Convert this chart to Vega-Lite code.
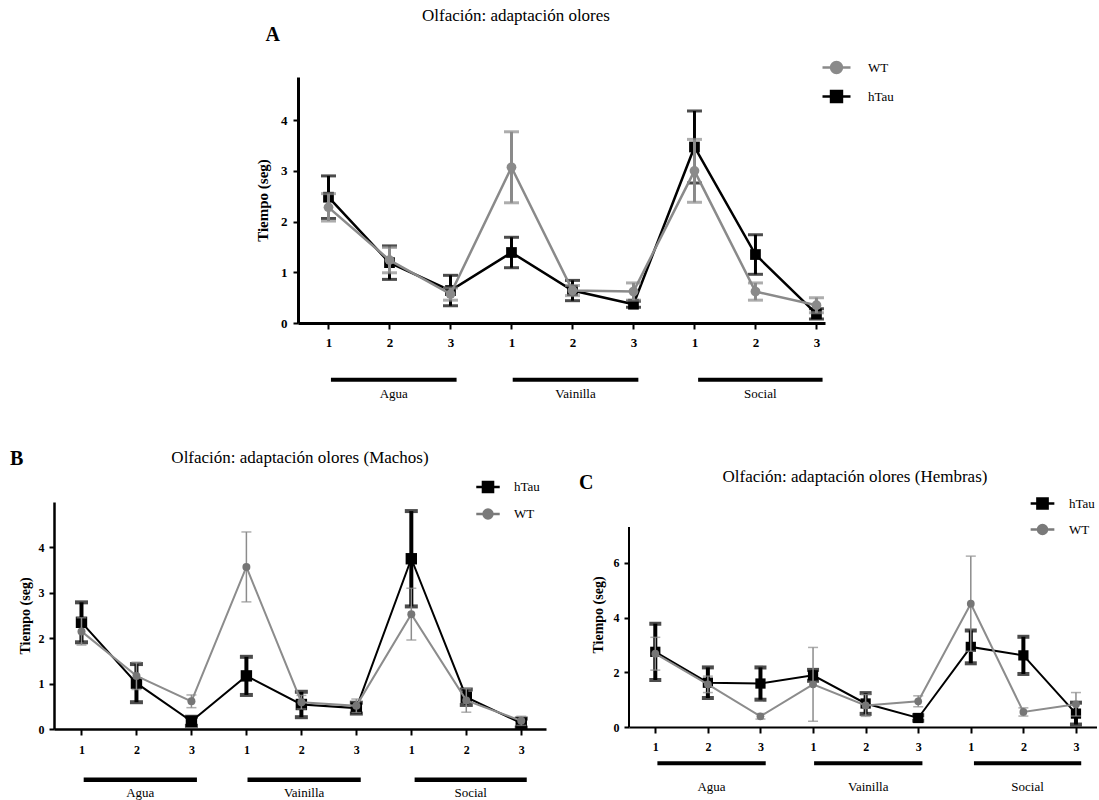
{
  "$schema": "https://vega.github.io/schema/vega-lite/v6.json",
  "padding": {"left": 10, "top": 7, "right": 0, "bottom": 0},
  "config": {
    "font": "Liberation Serif",
    "view": {"stroke": null},
    "axis": {"grid": false, "domainColor": "#000", "tickColor": "#000", "labelColor": "#000", "titleColor": "#000", "labelFont": "Liberation Serif", "titleFont": "Liberation Serif", "labelFontWeight": "bold", "titleFontWeight": "bold", "labelFontSize": 13, "titleFontSize": 14},
    "title": {"font": "Liberation Serif", "fontWeight": "normal", "fontSize": 17, "color": "#000"},
    "legend": {"labelFont": "Liberation Serif", "labelFontSize": 13, "labelColor": "#000", "padding": 0}
  },
  "datasets": {
    "A": [
      {"pos": 1, "series": "hTau", "mean": 2.48, "err": 0.42},
      {"pos": 2, "series": "hTau", "mean": 1.19, "err": 0.33},
      {"pos": 3, "series": "hTau", "mean": 0.64, "err": 0.3},
      {"pos": 4, "series": "hTau", "mean": 1.39, "err": 0.3},
      {"pos": 5, "series": "hTau", "mean": 0.64, "err": 0.2},
      {"pos": 6, "series": "hTau", "mean": 0.37, "err": 0.06},
      {"pos": 7, "series": "hTau", "mean": 3.47, "err": 0.71},
      {"pos": 8, "series": "hTau", "mean": 1.35, "err": 0.39},
      {"pos": 9, "series": "hTau", "mean": 0.18, "err": 0.1},
      {"pos": 1, "series": "WT", "mean": 2.28, "err": 0.27},
      {"pos": 2, "series": "WT", "mean": 1.24, "err": 0.25},
      {"pos": 3, "series": "WT", "mean": 0.57, "err": 0.12},
      {"pos": 4, "series": "WT", "mean": 3.07, "err": 0.7},
      {"pos": 5, "series": "WT", "mean": 0.64, "err": 0.1},
      {"pos": 6, "series": "WT", "mean": 0.62, "err": 0.17},
      {"pos": 7, "series": "WT", "mean": 3.0, "err": 0.62},
      {"pos": 8, "series": "WT", "mean": 0.62, "err": 0.17},
      {"pos": 9, "series": "WT", "mean": 0.35, "err": 0.15}
    ],
    "B": [
      {"pos": 1, "series": "hTau", "mean": 2.35, "err": 0.44},
      {"pos": 2, "series": "hTau", "mean": 1.01, "err": 0.42},
      {"pos": 3, "series": "hTau", "mean": 0.17, "err": 0.1},
      {"pos": 4, "series": "hTau", "mean": 1.17, "err": 0.42},
      {"pos": 5, "series": "hTau", "mean": 0.54, "err": 0.28},
      {"pos": 6, "series": "hTau", "mean": 0.46, "err": 0.12},
      {"pos": 7, "series": "hTau", "mean": 3.75, "err": 1.05},
      {"pos": 8, "series": "hTau", "mean": 0.7, "err": 0.17},
      {"pos": 9, "series": "hTau", "mean": 0.13, "err": 0.1},
      {"pos": 1, "series": "WT", "mean": 2.15, "err": 0.3},
      {"pos": 2, "series": "WT", "mean": 1.17, "err": 0.3},
      {"pos": 3, "series": "WT", "mean": 0.61, "err": 0.14},
      {"pos": 4, "series": "WT", "mean": 3.57, "err": 0.77},
      {"pos": 5, "series": "WT", "mean": 0.59, "err": 0.15},
      {"pos": 6, "series": "WT", "mean": 0.51, "err": 0.15},
      {"pos": 7, "series": "WT", "mean": 2.53, "err": 0.57},
      {"pos": 8, "series": "WT", "mean": 0.63, "err": 0.26},
      {"pos": 9, "series": "WT", "mean": 0.18, "err": 0.1}
    ],
    "C": [
      {"pos": 1, "series": "hTau", "mean": 2.75, "err": 1.03},
      {"pos": 2, "series": "hTau", "mean": 1.62, "err": 0.56},
      {"pos": 3, "series": "hTau", "mean": 1.59, "err": 0.59},
      {"pos": 4, "series": "hTau", "mean": 1.89, "err": 0.2},
      {"pos": 5, "series": "hTau", "mean": 0.86, "err": 0.38},
      {"pos": 6, "series": "hTau", "mean": 0.33, "err": 0.1},
      {"pos": 7, "series": "hTau", "mean": 2.93, "err": 0.6},
      {"pos": 8, "series": "hTau", "mean": 2.62, "err": 0.68},
      {"pos": 9, "series": "hTau", "mean": 0.49, "err": 0.4},
      {"pos": 1, "series": "WT", "mean": 2.68, "err": 0.6},
      {"pos": 2, "series": "WT", "mean": 1.56, "err": 0.3},
      {"pos": 3, "series": "WT", "mean": 0.39, "err": 0.1},
      {"pos": 4, "series": "WT", "mean": 1.56, "err": 1.35},
      {"pos": 5, "series": "WT", "mean": 0.79, "err": 0.4},
      {"pos": 6, "series": "WT", "mean": 0.94, "err": 0.2},
      {"pos": 7, "series": "WT", "mean": 4.51, "err": 1.74},
      {"pos": 8, "series": "WT", "mean": 0.55, "err": 0.15},
      {"pos": 9, "series": "WT", "mean": 0.83, "err": 0.43}
    ],
    "groups": [
      {"group": "Agua", "start": 1.04, "end": 3.1, "mid": 2.07},
      {"group": "Vainilla", "start": 4.02, "end": 6.08, "mid": 5.05},
      {"group": "Social", "start": 7.06, "end": 9.1, "mid": 8.08}
    ]
  },
  "resolve": {"scale": {"fill": "independent", "stroke": "independent", "shape": "independent"}, "legend": {"fill": "independent", "stroke": "independent", "shape": "independent"}},
  "spacing": 48,
  "vconcat": [
    {
      "title": {"text": "Olfación: adaptación olores", "anchor": "middle", "frame": "bounds", "dx": 42, "offset": 0},
      "spacing": 0,
      "resolve": {"scale": {"fill": "independent", "stroke": "independent", "shape": "independent"}, "legend": {"fill": "independent", "stroke": "independent", "shape": "independent"}},
      "hconcat": [
        {"width": 201, "height": 1, "data": {"values": []}, "mark": "point"},
        {
          "width": 527, "height": 246,
          "title": {"text": "A", "anchor": "start", "frame": "bounds", "fontSize": 20, "fontWeight": "bold", "dx": 10, "offset": 7},
          "layer": [
            {"data": {"name": "A"}, "transform": [{"filter": "datum.series === 'hTau'"}],
             "mark": {"type": "line", "strokeWidth": 2.5, "color": "#000"},
             "encoding": {
               "x": {"field": "pos", "type": "quantitative", "title": null, "scale": {"domain": [0.5, 9.14], "nice": false, "zero": false},
                     "axis": {"values": [1, 2, 3, 4, 5, 6, 7, 8, 9], "labelExpr": "'' + ((datum.value - 1) % 3 + 1)", "tickSize": 6, "tickWidth": 2, "domainWidth": 3, "labelPadding": 7}},
               "y": {"field": "mean", "type": "quantitative", "title": "Tiempo (seg)", "scale": {"domain": [0, 4.85], "nice": false},
                     "axis": {"values": [0, 1, 2, 3, 4], "format": "d", "tickSize": 5, "tickWidth": 2, "domainWidth": 3, "labelPadding": 6, "titlePadding": 10, "titleFontSize": 15}}
             }},
            {"data": {"name": "A"}, "transform": [{"filter": "datum.series === 'hTau'"}],
             "mark": {"type": "errorbar", "color": "#000", "rule": {"strokeWidth": 3}, "ticks": {"size": 15, "thickness": 3}},
             "encoding": {
               "x": {"field": "pos", "type": "quantitative", "title": null, "scale": {"domain": [0.5, 9.14], "nice": false, "zero": false}},
               "y": {"field": "mean", "type": "quantitative", "title": "Tiempo (seg)", "scale": {"domain": [0, 4.85], "nice": false}},
               "yError": {"field": "err"}
             }},
            {"data": {"name": "A"}, "transform": [{"filter": "datum.series === 'hTau'"}],
             "mark": {"type": "point", "shape": "square", "filled": true, "opacity": 1, "color": "#000", "size": 115},
             "encoding": {
               "x": {"field": "pos", "type": "quantitative", "title": null, "scale": {"domain": [0.5, 9.14], "nice": false, "zero": false}},
               "y": {"field": "mean", "type": "quantitative", "title": "Tiempo (seg)", "scale": {"domain": [0, 4.85], "nice": false}}
             }},
            {"data": {"name": "A"}, "transform": [{"filter": "datum.series === 'WT'"}],
             "mark": {"type": "line", "strokeWidth": 2.5, "color": "#8a8a8a"},
             "encoding": {
               "x": {"field": "pos", "type": "quantitative", "title": null, "scale": {"domain": [0.5, 9.14], "nice": false, "zero": false}},
               "y": {"field": "mean", "type": "quantitative", "title": "Tiempo (seg)", "scale": {"domain": [0, 4.85], "nice": false}}
             }},
            {"data": {"name": "A"}, "transform": [{"filter": "datum.series === 'WT'"}],
             "mark": {"type": "errorbar", "color": "#8a8a8a", "rule": {"strokeWidth": 3}, "ticks": {"size": 15, "thickness": 3}},
             "encoding": {
               "x": {"field": "pos", "type": "quantitative", "title": null, "scale": {"domain": [0.5, 9.14], "nice": false, "zero": false}},
               "y": {"field": "mean", "type": "quantitative", "title": "Tiempo (seg)", "scale": {"domain": [0, 4.85], "nice": false}},
               "yError": {"field": "err"}
             }},
            {"data": {"name": "A"}, "transform": [{"filter": "datum.series === 'WT'"}],
             "mark": {"type": "point", "shape": "circle", "filled": true, "opacity": 1, "color": "#8a8a8a", "size": 95},
             "encoding": {
               "x": {"field": "pos", "type": "quantitative", "title": null, "scale": {"domain": [0.5, 9.14], "nice": false, "zero": false}},
               "y": {"field": "mean", "type": "quantitative", "title": "Tiempo (seg)", "scale": {"domain": [0, 4.85], "nice": false}}
             }},
            {"data": {"values": []},
             "mark": {"type": "point", "filled": true, "opacity": 1, "strokeWidth": 2.5},
             "encoding": {
               "fill": {"field": "series", "type": "nominal", "scale": {"domain": ["WT", "hTau"], "range": ["#8a8a8a", "#000000"]},
                        "legend": {"title": null, "orient": "none", "legendX": 523, "legendY": -25, "symbolSize": 784, "symbolStrokeWidth": 2.5, "rowPadding": 3, "labelOffset": 16, "labelFontSize": 13}},
               "stroke": {"field": "series", "type": "nominal", "scale": {"domain": ["WT", "hTau"], "range": ["#8a8a8a", "#000000"]},
                        "legend": {"title": null, "orient": "none", "legendX": 523, "legendY": -25, "symbolSize": 784, "symbolStrokeWidth": 2.5, "rowPadding": 3, "labelOffset": 16, "labelFontSize": 13}},
               "shape": {"field": "series", "type": "nominal", "scale": {"domain": ["WT", "hTau"], "range": ["M-1,0H1M0.39,0A0.39,0.39,0,1,1,-0.39,0A0.39,0.39,0,1,1,0.39,0Z", "M-1,0H1M-0.39,-0.39H0.39V0.39H-0.39Z"]},
                        "legend": {"title": null, "orient": "none", "legendX": 523, "legendY": -25, "symbolSize": 784, "symbolStrokeWidth": 2.5, "rowPadding": 3, "labelOffset": 16, "labelFontSize": 13}}
             }},
            {"data": {"name": "groups"},
             "mark": {"type": "rule", "strokeWidth": 4, "color": "#000"},
             "encoding": {
               "x": {"field": "start", "type": "quantitative", "title": null, "scale": {"domain": [0.5, 9.14], "nice": false, "zero": false}},
               "x2": {"field": "end"},
               "y": {"datum": -1.12, "type": "quantitative", "scale": {"domain": [0, 4.85], "nice": false}}
             }},
            {"data": {"name": "groups"},
             "mark": {"type": "text", "fontSize": 13, "font": "Liberation Serif", "baseline": "middle", "color": "#000"},
             "encoding": {
               "x": {"field": "mid", "type": "quantitative", "title": null, "scale": {"domain": [0.5, 9.14], "nice": false, "zero": false}},
               "y": {"datum": -1.39, "type": "quantitative", "scale": {"domain": [0, 4.85], "nice": false}},
               "text": {"field": "group"}
             }}
          ]
        }
      ]
    },
    {
      "spacing": 33,
      "resolve": {"scale": {"fill": "independent", "stroke": "independent", "shape": "independent"}, "legend": {"fill": "independent", "stroke": "independent", "shape": "independent"}},
      "hconcat": [
        {
          "title": {"text": "B", "anchor": "start", "frame": "bounds", "fontSize": 20, "fontWeight": "bold", "dx": -8, "dy": 24},
          "resolve": {"scale": {"fill": "independent", "stroke": "independent", "shape": "independent"}, "legend": {"fill": "independent", "stroke": "independent", "shape": "independent"}},
          "vconcat": [
            {
              "width": 492, "height": 227,
              "title": {"text": "Olfación: adaptación olores (Machos)", "anchor": "middle", "frame": "group", "offset": 7},
              "layer": [
                {"data": {"name": "B"}, "transform": [{"filter": "datum.series === 'hTau'"}],
                 "mark": {"type": "line", "strokeWidth": 2, "color": "#000"},
                 "encoding": {
                   "x": {"field": "pos", "type": "quantitative", "title": null, "scale": {"domain": [0.5, 9.45], "nice": false, "zero": false},
                         "axis": {"values": [1, 2, 3, 4, 5, 6, 7, 8, 9], "labelExpr": "'' + ((datum.value - 1) % 3 + 1)", "tickSize": 6, "tickWidth": 2, "domainWidth": 2.5, "labelPadding": 9, "labelFontSize": 12}},
                   "y": {"field": "mean", "type": "quantitative", "title": "Tiempo (seg)", "scale": {"domain": [0, 5], "nice": false},
                         "axis": {"values": [0, 1, 2, 3, 4], "format": "d", "tickSize": 5, "tickWidth": 2, "domainWidth": 2.5, "labelPadding": 5, "titlePadding": 6, "labelFontSize": 12, "titleFontSize": 14}}
                 }},
                {"data": {"name": "B"}, "transform": [{"filter": "datum.series === 'hTau'"}],
                 "mark": {"type": "errorbar", "color": "#000", "rule": {"strokeWidth": 4}, "ticks": {"size": 13, "thickness": 4}},
                 "encoding": {
                   "x": {"field": "pos", "type": "quantitative", "title": null, "scale": {"domain": [0.5, 9.45], "nice": false, "zero": false}},
                   "y": {"field": "mean", "type": "quantitative", "title": "Tiempo (seg)", "scale": {"domain": [0, 5], "nice": false}},
                   "yError": {"field": "err"}
                 }},
                {"data": {"name": "B"}, "transform": [{"filter": "datum.series === 'hTau'"}],
                 "mark": {"type": "point", "shape": "square", "filled": true, "opacity": 1, "color": "#000", "size": 130},
                 "encoding": {
                   "x": {"field": "pos", "type": "quantitative", "title": null, "scale": {"domain": [0.5, 9.45], "nice": false, "zero": false}},
                   "y": {"field": "mean", "type": "quantitative", "title": "Tiempo (seg)", "scale": {"domain": [0, 5], "nice": false}}
                 }},
                {"data": {"name": "B"}, "transform": [{"filter": "datum.series === 'WT'"}],
                 "mark": {"type": "line", "strokeWidth": 2, "color": "#8c8c8c"},
                 "encoding": {
                   "x": {"field": "pos", "type": "quantitative", "title": null, "scale": {"domain": [0.5, 9.45], "nice": false, "zero": false}},
                   "y": {"field": "mean", "type": "quantitative", "title": "Tiempo (seg)", "scale": {"domain": [0, 5], "nice": false}}
                 }},
                {"data": {"name": "B"}, "transform": [{"filter": "datum.series === 'WT'"}],
                 "mark": {"type": "errorbar", "color": "#8c8c8c", "rule": {"strokeWidth": 1.5}, "ticks": {"size": 10, "thickness": 1.5}},
                 "encoding": {
                   "x": {"field": "pos", "type": "quantitative", "title": null, "scale": {"domain": [0.5, 9.45], "nice": false, "zero": false}},
                   "y": {"field": "mean", "type": "quantitative", "title": "Tiempo (seg)", "scale": {"domain": [0, 5], "nice": false}},
                   "yError": {"field": "err"}
                 }},
                {"data": {"name": "B"}, "transform": [{"filter": "datum.series === 'WT'"}],
                 "mark": {"type": "point", "shape": "circle", "filled": true, "opacity": 1, "color": "#767676", "size": 64},
                 "encoding": {
                   "x": {"field": "pos", "type": "quantitative", "title": null, "scale": {"domain": [0.5, 9.45], "nice": false, "zero": false}},
                   "y": {"field": "mean", "type": "quantitative", "title": "Tiempo (seg)", "scale": {"domain": [0, 5], "nice": false}}
                 }},
                {"data": {"values": []},
                 "mark": {"type": "point", "filled": true, "opacity": 1, "strokeWidth": 2.5},
                 "encoding": {
                   "fill": {"field": "series", "type": "nominal", "scale": {"domain": ["hTau", "WT"], "range": ["#000000", "#7a7a7a"]},
                            "legend": {"title": null, "orient": "none", "legendX": 421, "legendY": -28, "symbolSize": 550, "symbolStrokeWidth": 2.5, "rowPadding": 3, "labelOffset": 13, "labelFontSize": 13}},
                   "stroke": {"field": "series", "type": "nominal", "scale": {"domain": ["hTau", "WT"], "range": ["#000000", "#7a7a7a"]},
                            "legend": {"title": null, "orient": "none", "legendX": 421, "legendY": -28, "symbolSize": 550, "symbolStrokeWidth": 2.5, "rowPadding": 3, "labelOffset": 13, "labelFontSize": 13}},
                   "shape": {"field": "series", "type": "nominal", "scale": {"domain": ["hTau", "WT"], "range": ["M-1,0H1M-0.43,-0.43H0.43V0.43H-0.43Z", "M-1,0H1M0.38,0A0.38,0.38,0,1,1,-0.38,0A0.38,0.38,0,1,1,0.38,0Z"]},
                            "legend": {"title": null, "orient": "none", "legendX": 421, "legendY": -28, "symbolSize": 550, "symbolStrokeWidth": 2.5, "rowPadding": 3, "labelOffset": 13, "labelFontSize": 13}}
                 }},
                {"data": {"name": "groups"},
                 "mark": {"type": "rule", "strokeWidth": 4.5, "color": "#000"},
                 "encoding": {
                   "x": {"field": "start", "type": "quantitative", "title": null, "scale": {"domain": [0.5, 9.45], "nice": false, "zero": false}},
                   "x2": {"field": "end"},
                   "y": {"datum": -1.12, "type": "quantitative", "scale": {"domain": [0, 5], "nice": false}}
                 }},
                {"data": {"name": "groups"},
                 "mark": {"type": "text", "fontSize": 13, "font": "Liberation Serif", "baseline": "middle", "color": "#000"},
                 "encoding": {
                   "x": {"field": "mid", "type": "quantitative", "title": null, "scale": {"domain": [0.5, 9.45], "nice": false, "zero": false}},
                   "y": {"datum": -1.4, "type": "quantitative", "scale": {"domain": [0, 5], "nice": false}},
                   "text": {"field": "group"}
                 }}
              ]
            }
          ]
        },
        {
          "title": {"text": "C", "anchor": "start", "frame": "bounds", "fontSize": 20, "fontWeight": "bold", "dx": -12, "dy": 29},
          "resolve": {"scale": {"fill": "independent", "stroke": "independent", "shape": "independent"}, "legend": {"fill": "independent", "stroke": "independent", "shape": "independent"}},
          "vconcat": [
            {
              "width": 468, "height": 225,
              "title": {"text": "Olfación: adaptación olores (Hembras)", "anchor": "middle", "frame": "group", "offset": 4, "dx": -8},
              "layer": [
                {"data": {"values": [{}]},
                 "mark": {"type": "rule", "strokeWidth": 2, "color": "#000"},
                 "encoding": {
                   "x": {"datum": 0.5, "type": "quantitative", "scale": {"domain": [0.5, 9.4], "nice": false, "zero": false}},
                   "y": {"datum": 0, "type": "quantitative", "scale": {"domain": [0, 8.23], "nice": false}},
                   "y2": {"datum": 7.32}
                 }},
                {"data": {"name": "C"}, "transform": [{"filter": "datum.series === 'hTau'"}],
                 "mark": {"type": "line", "strokeWidth": 2, "color": "#000"},
                 "encoding": {
                   "x": {"field": "pos", "type": "quantitative", "title": null, "scale": {"domain": [0.5, 9.4], "nice": false, "zero": false},
                         "axis": {"values": [1, 2, 3, 4, 5, 6, 7, 8, 9], "labelExpr": "'' + ((datum.value - 1) % 3 + 1)", "tickSize": 6, "tickWidth": 2, "domainWidth": 2, "labelPadding": 8, "labelFontSize": 12}},
                   "y": {"field": "mean", "type": "quantitative", "title": "Tiempo (seg)", "scale": {"domain": [0, 8.23], "nice": false},
                         "axis": {"values": [0, 2, 4, 6], "format": "d", "domain": false, "tickSize": 5, "tickWidth": 2, "labelPadding": 5, "titlePadding": 8, "labelFontSize": 12, "titleFontSize": 14}}
                 }},
                {"data": {"name": "C"}, "transform": [{"filter": "datum.series === 'hTau'"}],
                 "mark": {"type": "errorbar", "color": "#000", "rule": {"strokeWidth": 4}, "ticks": {"size": 12, "thickness": 4}},
                 "encoding": {
                   "x": {"field": "pos", "type": "quantitative", "title": null, "scale": {"domain": [0.5, 9.4], "nice": false, "zero": false}},
                   "y": {"field": "mean", "type": "quantitative", "title": "Tiempo (seg)", "scale": {"domain": [0, 8.23], "nice": false}},
                   "yError": {"field": "err"}
                 }},
                {"data": {"name": "C"}, "transform": [{"filter": "datum.series === 'hTau'"}],
                 "mark": {"type": "point", "shape": "square", "filled": true, "opacity": 1, "color": "#000", "size": 105},
                 "encoding": {
                   "x": {"field": "pos", "type": "quantitative", "title": null, "scale": {"domain": [0.5, 9.4], "nice": false, "zero": false}},
                   "y": {"field": "mean", "type": "quantitative", "title": "Tiempo (seg)", "scale": {"domain": [0, 8.23], "nice": false}}
                 }},
                {"data": {"name": "C"}, "transform": [{"filter": "datum.series === 'WT'"}],
                 "mark": {"type": "line", "strokeWidth": 2, "color": "#8c8c8c"},
                 "encoding": {
                   "x": {"field": "pos", "type": "quantitative", "title": null, "scale": {"domain": [0.5, 9.4], "nice": false, "zero": false}},
                   "y": {"field": "mean", "type": "quantitative", "title": "Tiempo (seg)", "scale": {"domain": [0, 8.23], "nice": false}}
                 }},
                {"data": {"name": "C"}, "transform": [{"filter": "datum.series === 'WT'"}],
                 "mark": {"type": "errorbar", "color": "#8c8c8c", "rule": {"strokeWidth": 1.5}, "ticks": {"size": 10, "thickness": 1.5}},
                 "encoding": {
                   "x": {"field": "pos", "type": "quantitative", "title": null, "scale": {"domain": [0.5, 9.4], "nice": false, "zero": false}},
                   "y": {"field": "mean", "type": "quantitative", "title": "Tiempo (seg)", "scale": {"domain": [0, 8.23], "nice": false}},
                   "yError": {"field": "err"}
                 }},
                {"data": {"name": "C"}, "transform": [{"filter": "datum.series === 'WT'"}],
                 "mark": {"type": "point", "shape": "circle", "filled": true, "opacity": 1, "color": "#767676", "size": 60},
                 "encoding": {
                   "x": {"field": "pos", "type": "quantitative", "title": null, "scale": {"domain": [0.5, 9.4], "nice": false, "zero": false}},
                   "y": {"field": "mean", "type": "quantitative", "title": "Tiempo (seg)", "scale": {"domain": [0, 8.23], "nice": false}}
                 }},
                {"data": {"values": []},
                 "mark": {"type": "point", "filled": true, "opacity": 1, "strokeWidth": 2.5},
                 "encoding": {
                   "fill": {"field": "series", "type": "nominal", "scale": {"domain": ["hTau", "WT"], "range": ["#000000", "#7a7a7a"]},
                            "legend": {"title": null, "orient": "none", "legendX": 400, "legendY": -12, "symbolSize": 562, "symbolStrokeWidth": 2.5, "rowPadding": 2, "labelOffset": 13, "labelFontSize": 13}},
                   "stroke": {"field": "series", "type": "nominal", "scale": {"domain": ["hTau", "WT"], "range": ["#000000", "#7a7a7a"]},
                            "legend": {"title": null, "orient": "none", "legendX": 400, "legendY": -12, "symbolSize": 562, "symbolStrokeWidth": 2.5, "rowPadding": 2, "labelOffset": 13, "labelFontSize": 13}},
                   "shape": {"field": "series", "type": "nominal", "scale": {"domain": ["hTau", "WT"], "range": ["M-1,0H1M-0.43,-0.43H0.43V0.43H-0.43Z", "M-1,0H1M0.38,0A0.38,0.38,0,1,1,-0.38,0A0.38,0.38,0,1,1,0.38,0Z"]},
                            "legend": {"title": null, "orient": "none", "legendX": 400, "legendY": -12, "symbolSize": 562, "symbolStrokeWidth": 2.5, "rowPadding": 2, "labelOffset": 13, "labelFontSize": 13}}
                 }},
                {"data": {"name": "groups"},
                 "mark": {"type": "rule", "strokeWidth": 4, "color": "#000"},
                 "encoding": {
                   "x": {"field": "start", "type": "quantitative", "title": null, "scale": {"domain": [0.5, 9.4], "nice": false, "zero": false}},
                   "x2": {"field": "end"},
                   "y": {"datum": -1.33, "type": "quantitative", "scale": {"domain": [0, 8.23], "nice": false}}
                 }},
                {"data": {"name": "groups"},
                 "mark": {"type": "text", "fontSize": 13, "font": "Liberation Serif", "baseline": "middle", "color": "#000"},
                 "encoding": {
                   "x": {"field": "mid", "type": "quantitative", "title": null, "scale": {"domain": [0.5, 9.4], "nice": false, "zero": false}},
                   "y": {"datum": -2.2, "type": "quantitative", "scale": {"domain": [0, 8.23], "nice": false}},
                   "text": {"field": "group"}
                 }}
              ]
            }
          ]
        }
      ]
    }
  ]
}
